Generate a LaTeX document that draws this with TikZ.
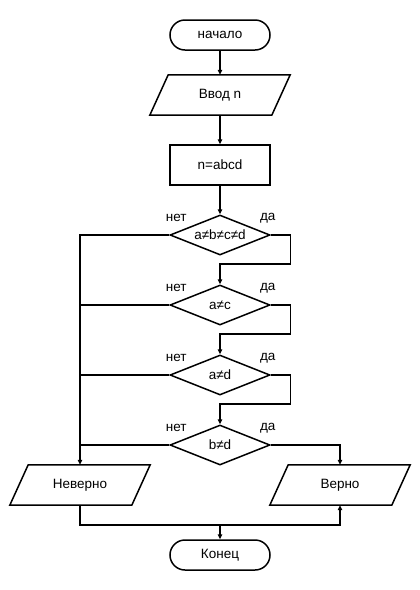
\documentclass[tikz,border=0pt]{standalone}
\usepackage{fontspec}
\setmainfont{Liberation Sans}
\usetikzlibrary{shapes.geometric,arrows.meta,calc}
\begin{document}
\begin{tikzpicture}[x=1pt,y=-1pt,
  font=\fontsize{13.5}{15}\selectfont,
  term/.style={draw,line width=1.5pt,rounded corners=15pt,minimum width=100pt,minimum height=30pt,inner sep=0pt},
  proc/.style={draw,line width=1.5pt,minimum width=100pt,minimum height=40pt,inner sep=0pt},
  io/.style={minimum width=140pt,minimum height=40pt,inner sep=0pt},
  iobox/.style={line width=1.5pt},
  cond/.style={draw,diamond,line width=1.5pt,minimum width=100pt,minimum height=40pt,inner sep=0pt,aspect=2.5},
  lnk/.style={line width=1.2pt},
  arr/.style={lnk,-{Triangle[length=5pt,width=4.5pt]}},
  lbl/.style={inner sep=0pt}]
\useasboundingbox (0,0) rectangle (420,590);
\node[term] (start) at (220,35) {начало};
\node[io] (in) at (220,95) {Ввод n};
\draw[iobox] (in.south west) -- ++(122,0) -- (in.north east) -- ++(-122,0) -- cycle;
\node[proc] (pr) at (220,165) {n=abcd};
\node[cond] (d1) at (220,235) {a≠b≠c≠d};
\node[cond] (d2) at (220,305) {a≠c};
\node[cond] (d3) at (220,375) {a≠d};
\node[cond] (d4) at (220,445) {b≠d};
\node[io] (nev) at (80,485) {Неверно};
\draw[iobox] (nev.south west) -- ++(122,0) -- (nev.north east) -- ++(-122,0) -- cycle;
\node[io] (ver) at (340,485) {Верно};
\draw[iobox] (ver.south west) -- ++(122,0) -- (ver.north east) -- ++(-122,0) -- cycle;
\node[term] (end) at (220,555) {Конец};
\foreach \d in {d1,d2,d3,d4}{
  \node[lbl] at ($(\d.west)+(7,-17)$) {нет};
  \node[lbl] at ($(\d.east)+(-3,-17)$) {да};
}
\coordinate (j1) at (220,264);
\coordinate (j2) at (220,334);
\coordinate (j3) at (220,404);
\coordinate (jb) at (220,525);
\draw[arr] (start) -- (in);
\draw[arr] (in) -- (pr);
\draw[arr] (pr) -- (d1);
\draw[arr] (d1.east) -- ++(20,0) |- (j1) -- (d2.north);
\draw[arr] (d2.east) -- ++(20,0) |- (j2) -- (d3.north);
\draw[arr] (d3.east) -- ++(20,0) |- (j3) -- (d4.north);
\draw[arr] (d4.east) -| (ver.north);
\draw[lnk] (d2.west) -- (d2.west -| nev.north);
\draw[lnk] (d3.west) -- (d3.west -| nev.north);
\draw[lnk] (d4.west) -- (d4.west -| nev.north);
\draw[arr] (d1.west) -| (nev.north);
\draw[arr] (nev.south) |- (jb) -| (ver.south);
\draw[arr] (jb) -- (end);
\end{tikzpicture}
\end{document}
